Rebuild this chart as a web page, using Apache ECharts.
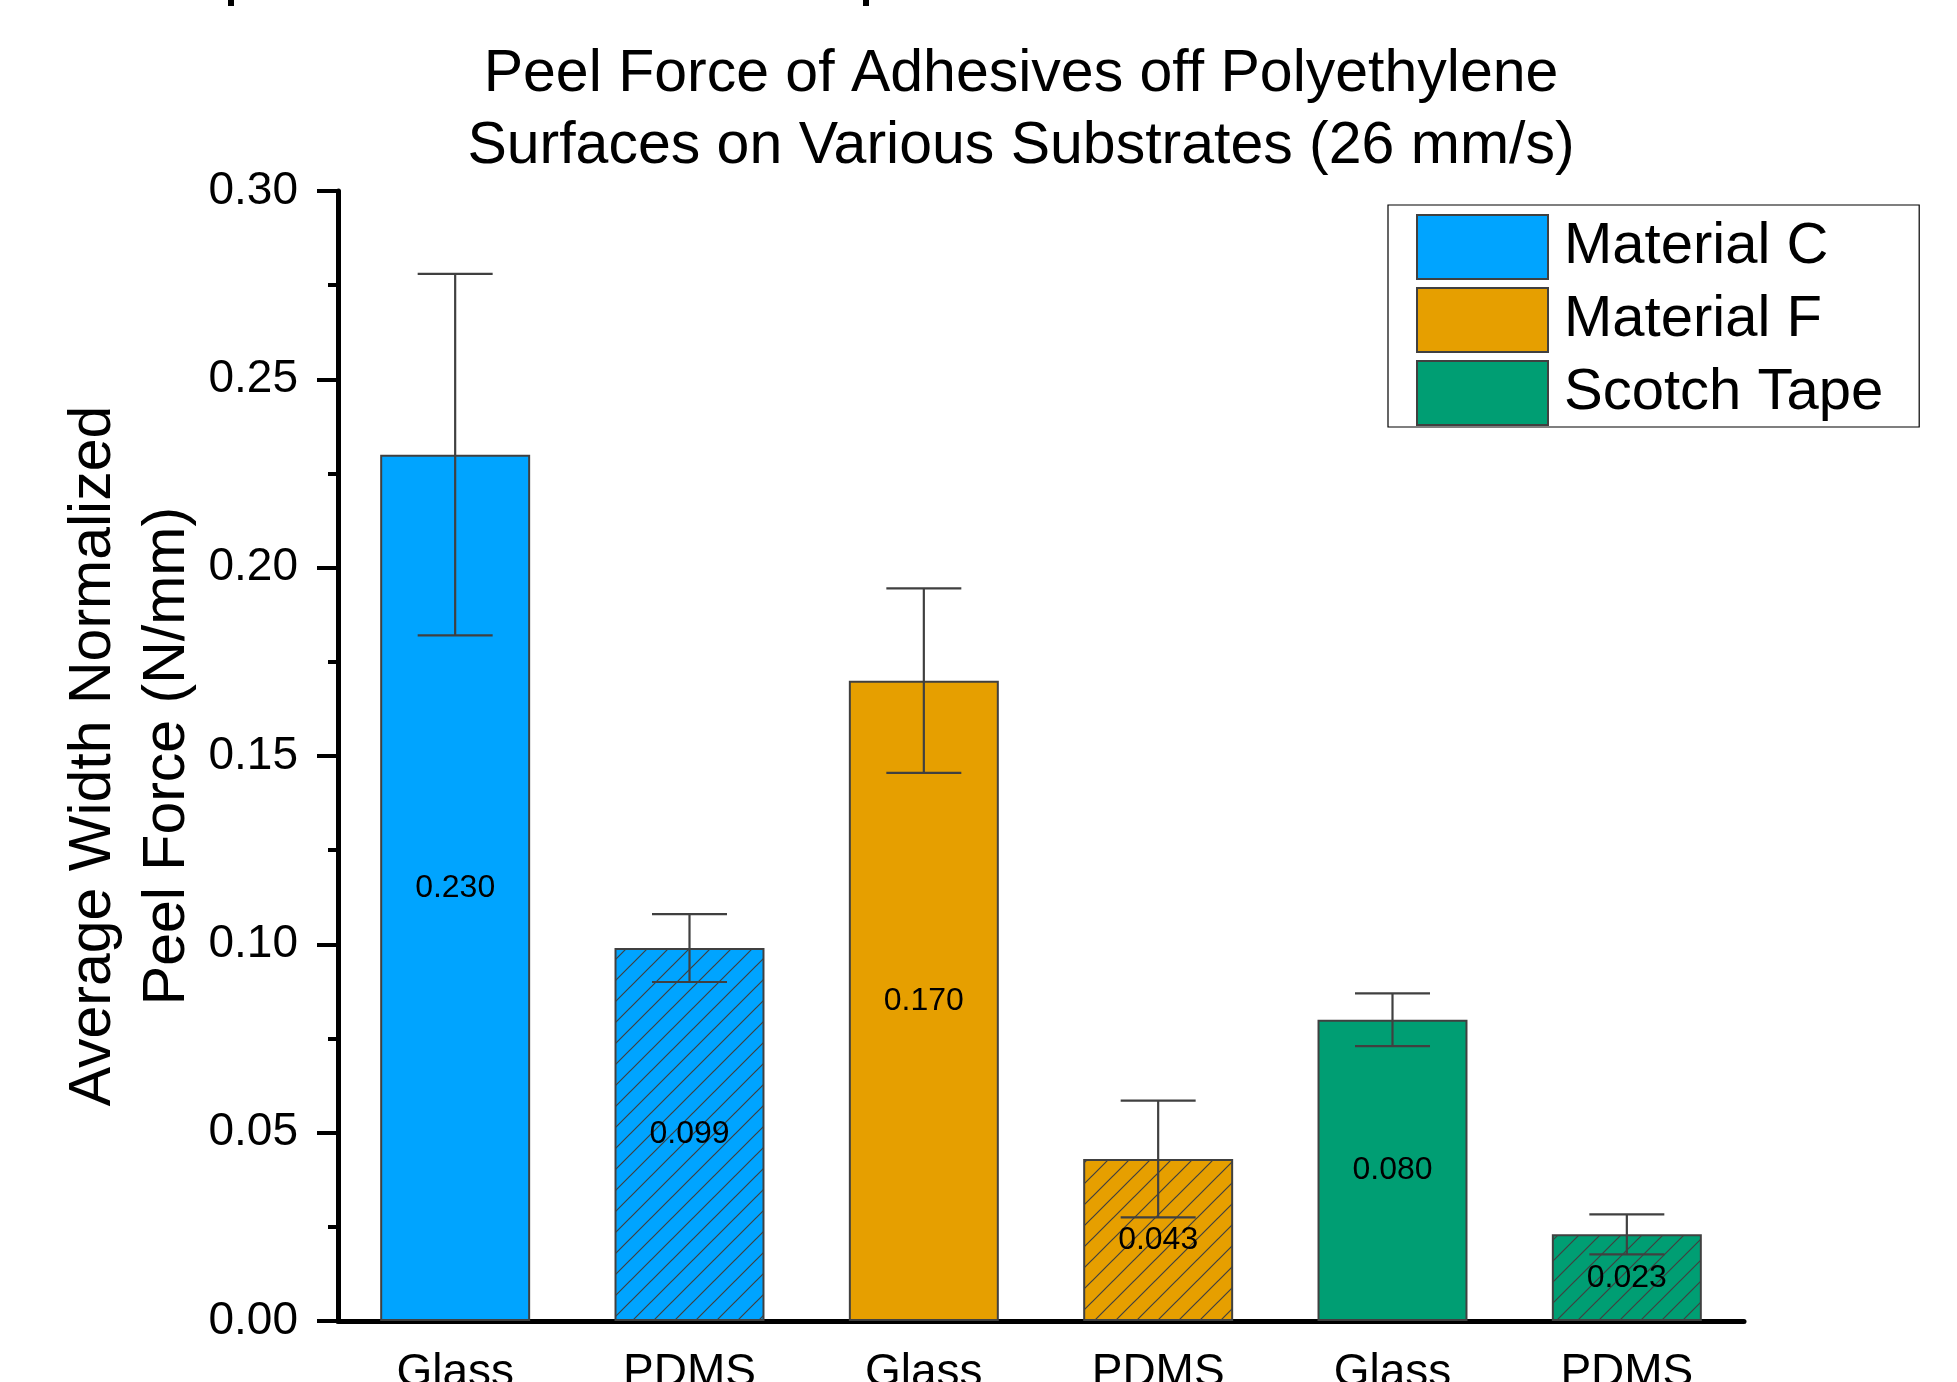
<!DOCTYPE html>
<html>
<head>
<meta charset="utf-8">
<title>Peel Force of Adhesives off Polyethylene</title>
<script src="https://cdn.jsdelivr.net/npm/echarts@6/dist/echarts.min.js"></script>
<style>
  html, body { margin: 0; padding: 0; background: #fff; }
  #chart { width: 1957px; height: 1382px; }
</style>
</head>
<body>
<div id="chart"></div>
<script>
// Substrate of each bar, left to right
const substrates = ['Glass', 'PDMS', 'Glass', 'PDMS', 'Glass', 'PDMS'];
// Adhesive materials (legend entries)
const materials = ['Material C', 'Material F', 'Scotch Tape'];
// Which material each bar belongs to (index into materials)
const materialOfBar = [0, 0, 1, 1, 2, 2];
// Average width-normalized peel force (N/mm)
const meanForce = [0.230, 0.099, 0.170, 0.043, 0.080, 0.023];
// Standard deviation for the error bars (N/mm)
const stdDev = [0.048, 0.009, 0.0245, 0.0155, 0.007, 0.0053];
// Y axis ticks
const yTicks = [0.00, 0.05, 0.10, 0.15, 0.20, 0.25, 0.30];

const materialColors = ['#00A4FF', '#E69F00', '#009E73'];
const edgeColor = '#404040';
const FONT = 'Liberation Sans, Arial, Helvetica, sans-serif';

// Diagonal hatch fill used for the PDMS bars
function hatch(color) {
  const s = 21;
  const c = document.createElement('canvas');
  c.width = s; c.height = s;
  const ctx = c.getContext('2d');
  ctx.fillStyle = color;
  ctx.fillRect(0, 0, s, s);
  ctx.strokeStyle = edgeColor;
  ctx.lineWidth = 1.2;
  ctx.beginPath();
  [0, s, 2 * s].forEach(k => {
    ctx.moveTo(-1, k + 1);
    ctx.lineTo(k + 1, -1);
  });
  ctx.stroke();
  return { image: c, repeat: 'repeat' };
}

const barSeries = materials.map((name, m) => ({
  name: name,
  type: 'bar',
  barWidth: '64%',
  barGap: '-100%',
  itemStyle: { color: materialColors[m], borderColor: edgeColor, borderWidth: 2 },
  label: {
    show: true,
    position: 'inside',
    color: '#000',
    fontFamily: FONT,
    fontSize: 32,
    formatter: p => Number(p.value).toFixed(3)
  },
  data: meanForce.map((v, i) => {
    if (materialOfBar[i] !== m) return '-';
    if (substrates[i] === 'PDMS') {
      return { value: v, itemStyle: { color: hatch(materialColors[m]) } };
    }
    return v;
  }),
  z: 2
}));

const errorSeries = {
  type: 'custom',
  name: 'error',
  z: 5,
  silent: true,
  data: meanForce.map((v, i) => [i, v - stdDev[i], v + stdDev[i]]),
  renderItem: (params, api) => {
    const lo = api.coord([api.value(0), api.value(1)]);
    const hi = api.coord([api.value(0), api.value(2)]);
    const half = api.size([1, 0])[0] * 0.64 / 4;
    const style = { stroke: edgeColor, lineWidth: 2.2 };
    return {
      type: 'group',
      children: [
        { type: 'line', shape: { x1: hi[0], y1: hi[1], x2: lo[0], y2: lo[1] }, style },
        { type: 'line', shape: { x1: hi[0] - half, y1: hi[1], x2: hi[0] + half, y2: hi[1] }, style },
        { type: 'line', shape: { x1: lo[0] - half, y1: lo[1], x2: lo[0] + half, y2: lo[1] }, style }
      ]
    };
  }
};

const chart = echarts.init(document.getElementById('chart'), null, { renderer: 'canvas' });
chart.setOption({
  animation: false,
  backgroundColor: '#fff',
  title: {
    text: 'Peel Force of Adhesives off Polyethylene\nSurfaces on Various Substrates (26 mm/s)',
    left: 1021,
    top: 39,
    padding: 0,
    textAlign: 'center',
    textStyle: { fontFamily: FONT, fontSize: 59, fontWeight: 'normal', color: '#000', lineHeight: 72 }
  },
  legend: {
    orient: 'vertical',
    left: 1388,
    top: 205,
    padding: [9, 36, 1, 28],
    itemWidth: 131,
    itemHeight: 64,
    itemGap: 7,
    icon: 'rect',
    borderColor: '#000',
    borderWidth: 1.2,
    data: materials,
    textStyle: { fontFamily: FONT, fontSize: 58, lineHeight: 58, color: '#000', padding: [0, 0, 0, 11] }
  },
  grid: { left: 338, right: 213, top: 191, bottom: 61, outerBoundsMode: 'none' },
  xAxis: {
    type: 'category',
    data: substrates,
    axisLine: { lineStyle: { color: '#000', width: 5 } },
    axisTick: { alignWithLabel: true, length: 21, lineStyle: { color: '#000', width: 4 } },
    axisLabel: { fontFamily: FONT, fontSize: 46, color: '#000', margin: 29 }
  },
  yAxis: {
    type: 'value',
    min: yTicks[0],
    max: yTicks[yTicks.length - 1],
    interval: yTicks[1] - yTicks[0],
    name: 'Average Width Normalized\nPeel Force (N/mm)',
    nameLocation: 'middle',
    nameGap: 133,
    nameMoveOverlap: false,
    nameTextStyle: { fontFamily: FONT, fontSize: 59, color: '#000', lineHeight: 74 },
    axisLine: { show: true, lineStyle: { color: '#000', width: 5 } },
    axisTick: { show: true, length: 21, lineStyle: { color: '#000', width: 4 } },
    minorTick: { show: true, splitNumber: 2, length: 10, lineStyle: { color: '#000', width: 4 } },
    splitLine: { show: false },
    axisLabel: {
      fontFamily: FONT, fontSize: 46, color: '#000', margin: 40,
      formatter: v => v.toFixed(2)
    }
  },
  graphic: [
    // descender fragments of a heading line above the visible area
    { type: 'rect', left: 228, top: 0, shape: { width: 6, height: 6 }, style: { fill: '#000' } },
    { type: 'rect', left: 863, top: 0, shape: { width: 6, height: 6 }, style: { fill: '#000' } }
  ],
  series: [...barSeries, errorSeries]
});
</script>
</body>
</html>
